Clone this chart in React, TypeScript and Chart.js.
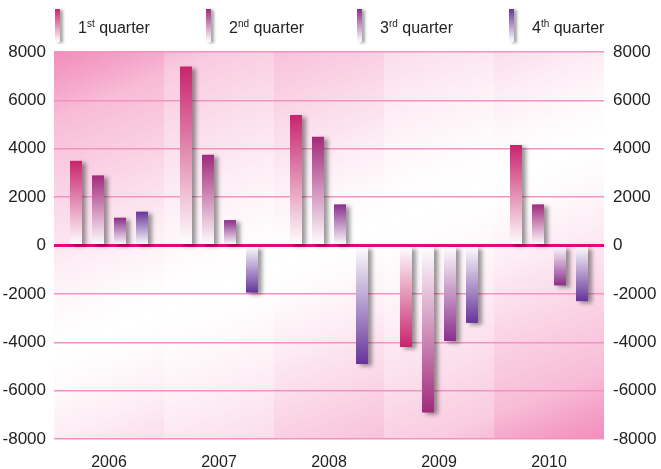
import React, { useEffect, useRef } from "react";
import { Chart, registerables } from "chart.js";

Chart.register(...registerables);

const categories = ["2006", "2007", "2008", "2009", "2010"];
const seriesNames = ["1st quarter", "2nd quarter", "3rd quarter", "4th quarter"];
const q1Values = [3500, 7400, 5400, -4200, 4150];
const q2Values = [2900, 3750, 4500, -6900, 1700];
const q3Values = [1150, 1050, 1700, -3950, -1650];
const q4Values = [1400, -1950, -4900, -3200, -2300];
const yTicks = [-8000, -6000, -4000, -2000, 0, 2000, 4000, 6000, 8000];

const seriesColors = ["#c8246c", "#a22a7c", "#8a2e8c", "#66349a"];
const FONT = '"Liberation Sans", Arial, sans-serif';

function barFill(color: string) {
  return (c: any) => {
    const chart = c.chart;
    const ys = chart.scales && chart.scales.y;
    if (!ys || !c.parsed) return color;
    const v = c.parsed.y;
    const y0 = ys.getPixelForValue(0);
    const y1 = ys.getPixelForValue(v);
    if (!isFinite(y0) || !isFinite(y1) || Math.abs(y0 - y1) < 0.5) return color;
    const g = chart.ctx.createLinearGradient(0, y1, 0, y0);
    g.addColorStop(0, color);
    g.addColorStop(1, "#ffffff");
    return g;
  };
}

const bgPlugin = {
  id: "plotBg",
  beforeDraw(chart: any) {
    const { ctx, chartArea } = chart;
    if (!chartArea) return;
    const { left, top, right, bottom } = chartArea;
    const w = right - left;
    const h = bottom - top;
    ctx.save();
    ctx.beginPath();
    ctx.rect(left, top, w, h);
    ctx.clip();
    ctx.fillStyle = "#ffffff";
    ctx.fillRect(left, top, w, h);
    const a = 0.39 * h;
    const span = (w * a + h * h) / (a * a + h * h);
    const g = ctx.createLinearGradient(left, top, left + a * span, top + h * span);
    const stops: [number, number][] = [
      [0, 0.74],
      [0.11, 0.38],
      [0.26, 0.2],
      [0.36, 0.09],
      [0.44, 0.025],
      [0.5, 0],
      [0.56, 0.025],
      [0.64, 0.09],
      [0.74, 0.2],
      [0.89, 0.38],
      [1, 0.74],
    ];
    for (const [p, al] of stops) g.addColorStop(p, `rgba(240,120,175,${al})`);
    ctx.fillStyle = g;
    ctx.fillRect(left, top, w, h);
    const xs = chart.scales.x;
    const n = categories.length;
    const bw = w / n;
    ctx.globalAlpha = 0.5;
    for (let i = 0; i < n; i += 2) {
      const x0 = xs ? xs.getPixelForValue(i) - bw / 2 : left + i * bw;
      ctx.fillRect(x0, top, bw, h);
    }
    ctx.restore();
  },
};

const shadowPlugin = {
  id: "barShadow",
  beforeDatasetsDraw(chart: any) {
    const ctx = chart.ctx;
    ctx.save();
    ctx.shadowColor = "rgba(0,0,0,0.4)";
    ctx.shadowBlur = 4;
    ctx.shadowOffsetX = 4;
    ctx.shadowOffsetY = 2;
  },
  afterDatasetsDraw(chart: any) {
    chart.ctx.restore();
  },
};

const sups = ["st", "nd", "rd", "th"];
const legendLeft = [55, 206, 357, 509];

export default function App() {
  const ref = useRef<HTMLCanvasElement | null>(null);

  useEffect(() => {
    document.body.style.margin = "0";
    const canvas = ref.current;
    if (!canvas) return;
    const values = [q1Values, q2Values, q3Values, q4Values];
    const tickCb = (v: any) => (yTicks.includes(Number(v)) ? String(v) : "");
    const chart = new Chart(canvas, {
      type: "bar",
      data: {
        labels: categories,
        datasets: values.map((vals, i) => ({
          label: seriesNames[i],
          data: vals,
          backgroundColor: barFill(seriesColors[i]),
          borderWidth: 0,
          categoryPercentage: 0.8,
          barPercentage: 0.545,
          yAxisID: "y",
        })),
      },
      options: {
        responsive: false,
        animation: false,
        devicePixelRatio: 1,
        layout: { padding: { top: 52, left: 0, right: 0, bottom: 0 } },
        plugins: {
          legend: { display: false },
          tooltip: { enabled: false },
          title: { display: false },
        },
        scales: {
          x: {
            grid: { display: false },
            border: { display: false },
            ticks: {
              padding: 6,
              color: "#222222",
              font: { family: FONT, size: 16 },
            },
            afterFit(s: any) {
              s.height = 30;
            },
          },
          y: {
            position: "left",
            min: -8000,
            max: 8000,
            border: { display: false },
            grid: {
              drawTicks: false,
              color: (c: any) => (c.tick && c.tick.value === 0 ? "#e8067f" : "#f493c2"),
              lineWidth: (c: any) => (c.tick && c.tick.value === 0 ? 3 : 1.5),
            },
            ticks: {
              stepSize: 2000,
              padding: 8,
              color: "#222222",
              font: { family: FONT, size: 17 },
              callback: tickCb,
            },
            afterFit(s: any) {
              s.width = 54;
            },
          },
          y2: {
            position: "right",
            min: -8000,
            max: 8000,
            border: { display: false },
            grid: { display: false, drawTicks: false },
            ticks: {
              stepSize: 2000,
              padding: 9,
              color: "#222222",
              font: { family: FONT, size: 17 },
              callback: tickCb,
            },
            afterFit(s: any) {
              s.width = 57;
            },
          },
        },
      },
      plugins: [bgPlugin, shadowPlugin],
    } as any);
    return () => chart.destroy();
  }, []);

  return (
    <div style={{ position: "relative", width: 661, height: 469, background: "#ffffff" }}>
      <canvas ref={ref} width={661} height={469} style={{ display: "block" }} />
      {seriesNames.map((name, i) => (
        <div key={name} style={{ position: "absolute", left: legendLeft[i], top: 9, height: 34 }}>
          <div
            style={{
              position: "absolute",
              left: 0,
              top: 0,
              width: 5,
              height: 33,
              background: `linear-gradient(${seriesColors[i]}, #ffffff)`,
              boxShadow: "3px 1px 3px rgba(0,0,0,0.35)",
            }}
          />
          <span
            style={{
              position: "absolute",
              left: 23,
              top: 11,
              whiteSpace: "nowrap",
              fontFamily: FONT,
              fontSize: 16,
              lineHeight: "16px",
              color: "#222222",
            }}
          >
            {i + 1}
            <span style={{ fontSize: 10, position: "relative", top: -6 }}>{sups[i]}</span> quarter
          </span>
        </div>
      ))}
    </div>
  );
}
